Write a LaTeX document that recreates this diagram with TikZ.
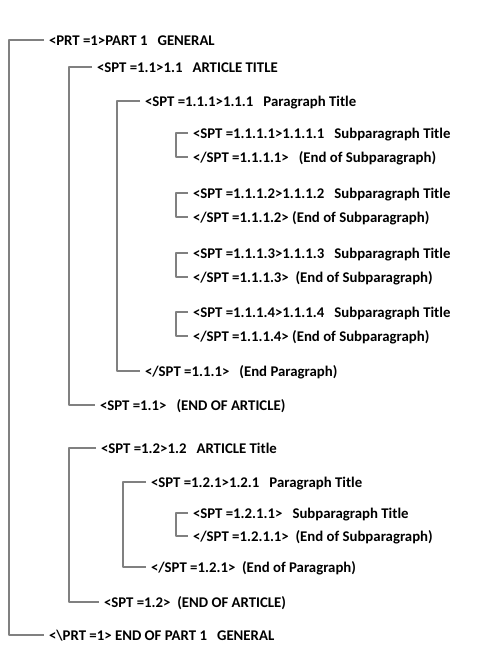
\documentclass[tikz,border=0pt]{standalone}
\usepackage{fontspec}
\setmainfont{Carlito}
\begin{document}
\begin{tikzpicture}[x=1pt,y=-1pt,line join=round,
	tag/.style={anchor=west,inner sep=0pt,outer xsep=5pt,text height=11pt,text depth=0pt,font=\fontsize{14.8}{18}\selectfont\bfseries},
	brk/.style={draw=black!50,line width=1.8pt}]
	\useasboundingbox (0,0) rectangle (494,665);
	% Part
	\node[tag] (prt) at (44,40) {<PRT =1>PART 1\ \ \ GENERAL};
	\node[tag] (endprt) at (44,635) {<\textbackslash PRT =1> END OF PART 1\ \ \ GENERAL};
	% Article 1.1
	\node[tag] (a11) at (92,67) {<SPT =1.1>1.1\ \ \ ARTICLE TITLE};
	\node[tag] (p111) at (140,101) {<SPT =1.1.1>1.1.1\ \ \ Paragraph Title};
	\node[tag] (s1111) at (188,133) {<SPT =1.1.1.1>1.1.1.1\ \ \ Subparagraph Title};
	\node[tag] (e1111) at (188,157) {</SPT =1.1.1.1>\ \ \ (End of Subparagraph)};
	\node[tag] (s1112) at (188,193) {<SPT =1.1.1.2>1.1.1.2\ \ \ Subparagraph Title};
	\node[tag] (e1112) at (188,217) {</SPT =1.1.1.2> (End of Subparagraph)};
	\node[tag] (s1113) at (188,253) {<SPT =1.1.1.3>1.1.1.3\ \ \ Subparagraph Title};
	\node[tag] (e1113) at (188,277) {</SPT =1.1.1.3>\ \ (End of Subparagraph)};
	\node[tag] (s1114) at (188,312) {<SPT =1.1.1.4>1.1.1.4\ \ \ Subparagraph Title};
	\node[tag] (e1114) at (188,336) {</SPT =1.1.1.4> (End of Subparagraph)};
	\node[tag] (ep111) at (140,371) {</SPT =1.1.1>\ \ \ (End Paragraph)};
	\node[tag] (ea11) at (95,405) {<SPT =1.1>\ \ \ (END OF ARTICLE)};
	% Article 1.2
	\node[tag] (a12) at (96,448) {<SPT =1.2>1.2\ \ \ ARTICLE Title};
	\node[tag] (p121) at (146,482) {<SPT =1.2.1>1.2.1\ \ \ Paragraph Title};
	\node[tag] (s1211) at (188,513) {<SPT =1.2.1.1>\ \ \ Subparagraph Title};
	\node[tag] (e1211) at (188,536) {</SPT =1.2.1.1>\ \ (End of Subparagraph)};
	\node[tag] (ep121) at (146,567) {</SPT =1.2.1>\ \ (End of Paragraph)};
	\node[tag] (ea12) at (99,602) {<SPT =1.2>\ \ (END OF ARTICLE)};
	% brackets
	\draw[brk] (prt.west) -- (9,0 |- prt.west) -- (9,0 |- endprt.west) -- (endprt.west);
	\draw[brk] (a11.west) -- (69,0 |- a11.west) -- (69,0 |- ea11.west) -- (ea11.west);
	\draw[brk] (p111.west) -- (117,0 |- p111.west) -- (117,0 |- ep111.west) -- (ep111.west);
	\draw[brk] (s1111.west) -- (176,0 |- s1111.west) -- (176,0 |- e1111.west) -- (e1111.west);
	\draw[brk] (s1112.west) -- (176,0 |- s1112.west) -- (176,0 |- e1112.west) -- (e1112.west);
	\draw[brk] (s1113.west) -- (176,0 |- s1113.west) -- (176,0 |- e1113.west) -- (e1113.west);
	\draw[brk] (s1114.west) -- (176,0 |- s1114.west) -- (176,0 |- e1114.west) -- (e1114.west);
	\draw[brk] (a12.west) -- (69,0 |- a12.west) -- (69,0 |- ea12.west) -- (ea12.west);
	\draw[brk] (p121.west) -- (123,0 |- p121.west) -- (123,0 |- ep121.west) -- (ep121.west);
	\draw[brk] (s1211.west) -- (176,0 |- s1211.west) -- (176,0 |- e1211.west) -- (e1211.west);
\end{tikzpicture}
\end{document}
